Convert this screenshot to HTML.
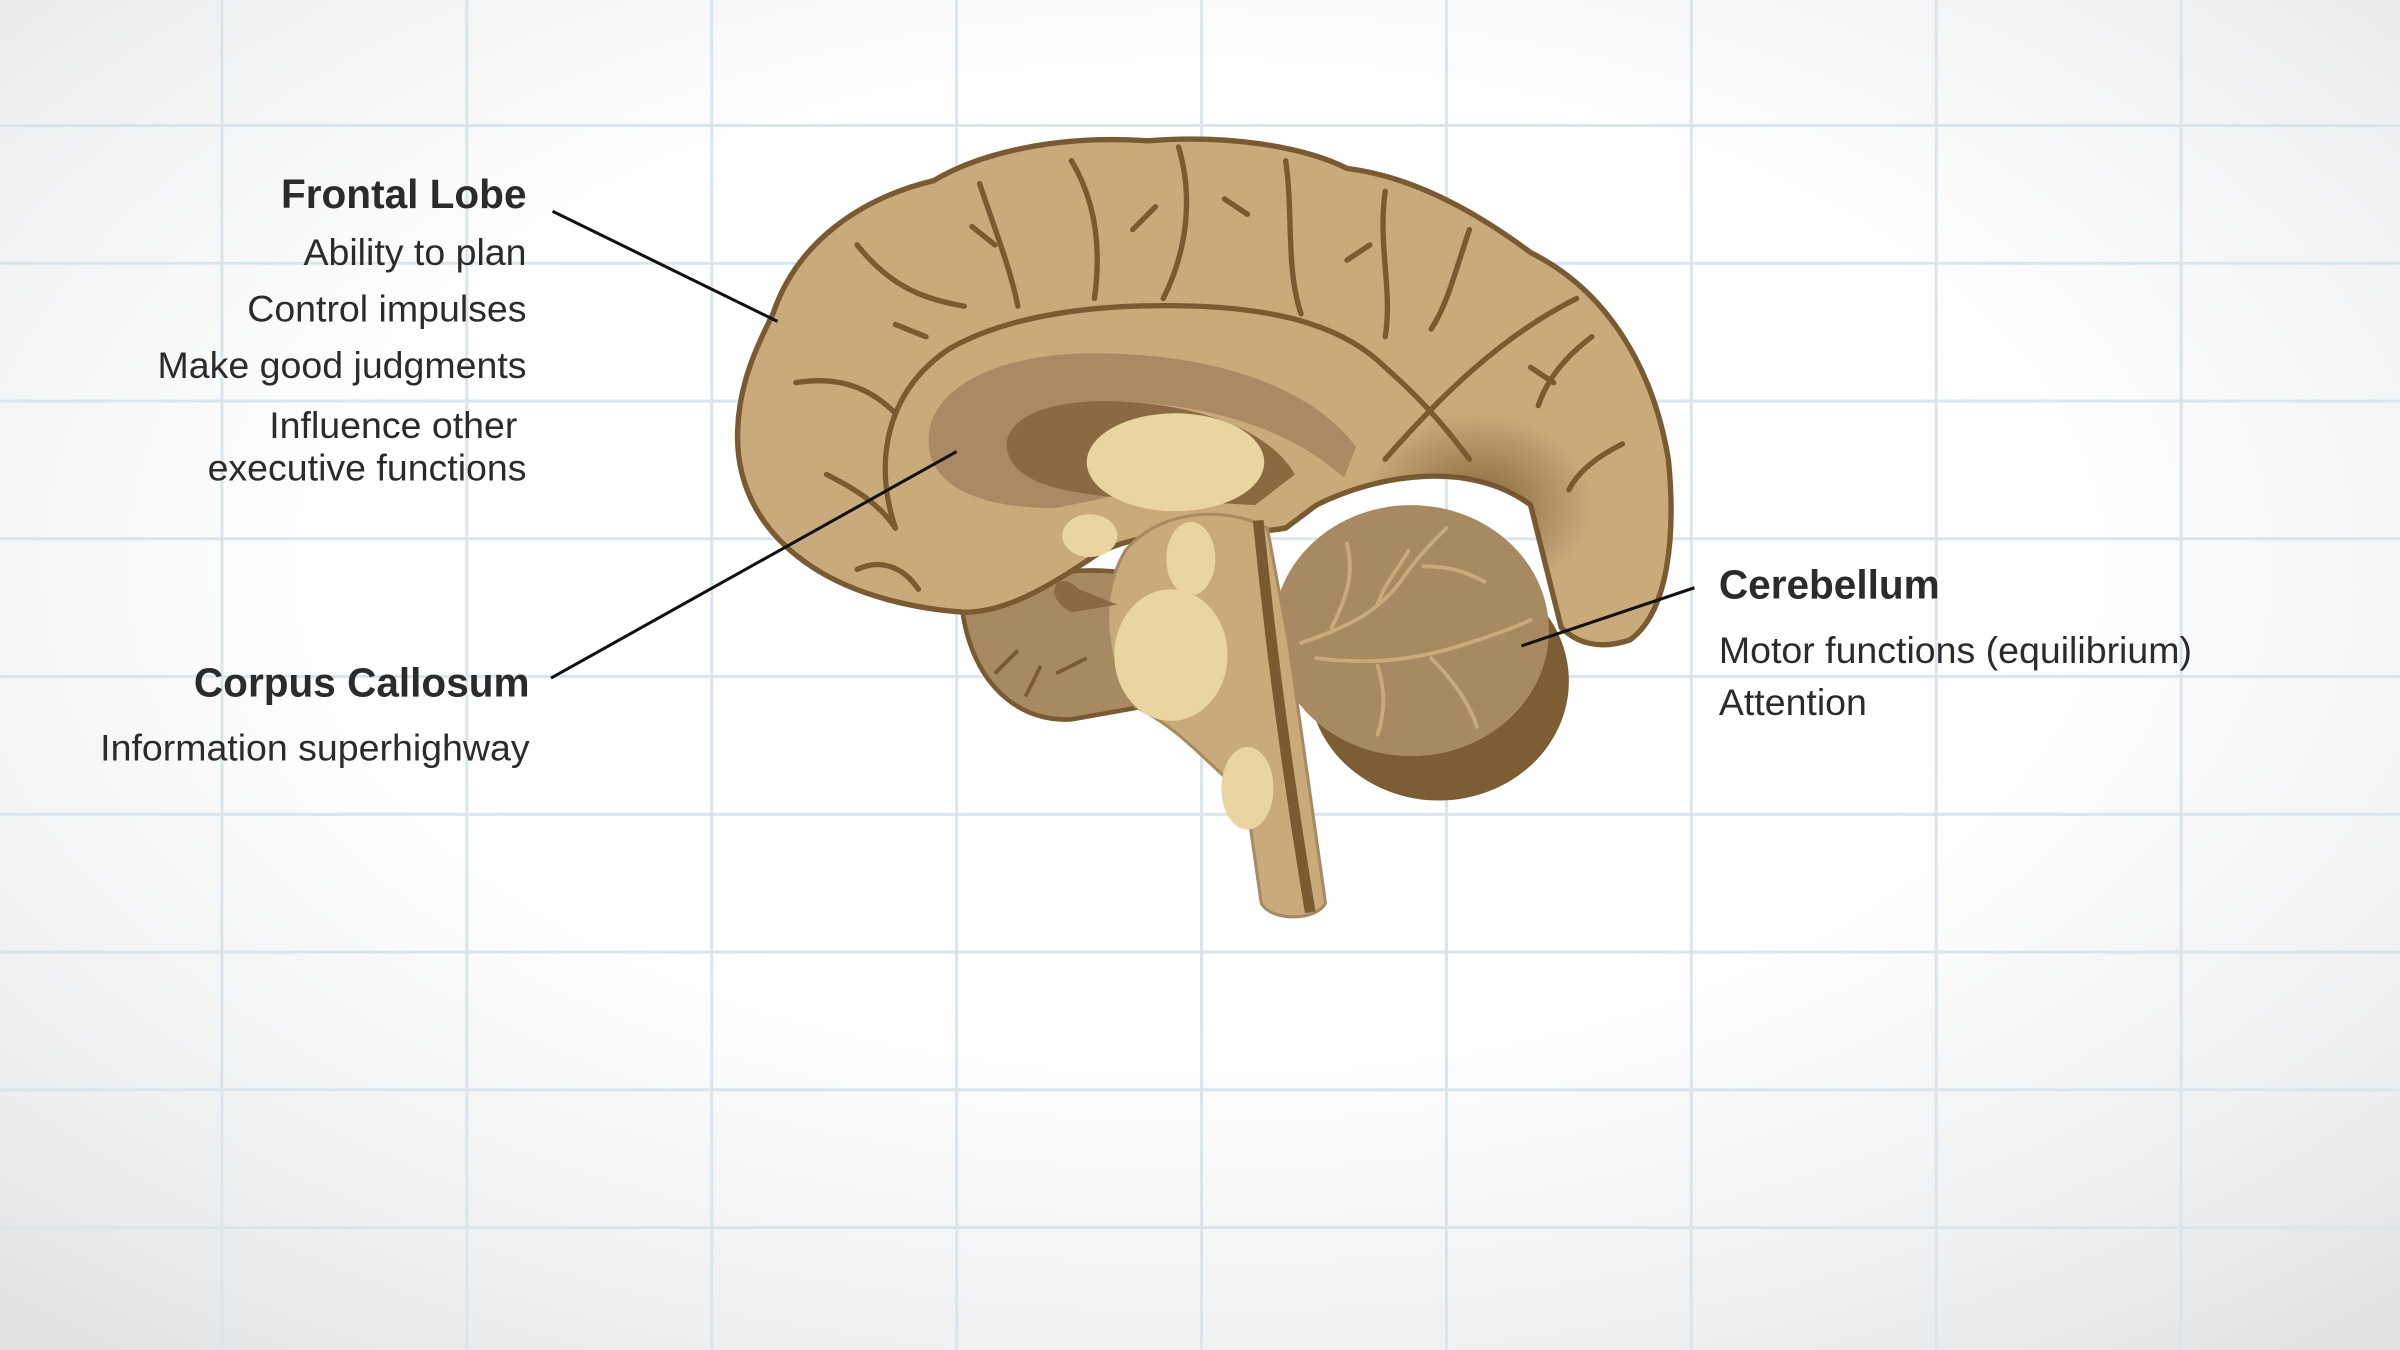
<!DOCTYPE html>
<html><head><meta charset="utf-8"><style>
html,body{margin:0;padding:0;width:2400px;height:1350px;overflow:hidden;background:#fff}
svg{display:block}
text{font-family:"Liberation Sans",sans-serif;fill:#2b2b2b}
.b{font-weight:bold;font-size:26.5px}
.r{font-size:24.5px}
</style></head><body>
<svg width="2400" height="1350" viewBox="0 0 1568 882" xmlns="http://www.w3.org/2000/svg">
<defs>
<radialGradient id="vig" cx="50%" cy="42%" r="75%">
<stop offset="0.45" stop-color="#ffffff"/><stop offset="0.8" stop-color="#eff0f1"/><stop offset="1" stop-color="#dfe1e3"/>
</radialGradient>
<radialGradient id="sh" cx="0.5" cy="0.5" r="0.5">
<stop offset="0" stop-color="#6e4e28" stop-opacity="0.75"/><stop offset="1" stop-color="#6e4e28" stop-opacity="0"/>
</radialGradient>
<clipPath id="cc"><path id="cer" d="M505,205 C520,160 560,130 610,118 C640,100 690,88 750,92 C800,88 850,95 880,110 C920,115 960,135 1000,165 C1050,190 1080,240 1090,300 C1095,350 1090,400 1065,418 C1045,425 1030,420 1020,410 L1000,330 C960,300 900,310 860,330 L840,345 C800,352 760,342 720,360 C690,380 660,400 630,400 C600,398 560,390 530,370 C500,350 480,320 482,280 C483,250 495,225 505,205 Z"/></clipPath>
</defs>
<rect width="1568" height="882" fill="url(#vig)"/>
<g stroke="#dbe6ec" stroke-width="2">
<line x1="145" y1="0" x2="145" y2="882"/><line x1="305" y1="0" x2="305" y2="882"/><line x1="465" y1="0" x2="465" y2="882"/><line x1="625" y1="0" x2="625" y2="882"/><line x1="785" y1="0" x2="785" y2="882"/><line x1="945" y1="0" x2="945" y2="882"/><line x1="1105" y1="0" x2="1105" y2="882"/><line x1="1265" y1="0" x2="1265" y2="882"/><line x1="1425" y1="0" x2="1425" y2="882"/>
<line x1="0" y1="82" x2="1568" y2="82"/><line x1="0" y1="172" x2="1568" y2="172"/><line x1="0" y1="262" x2="1568" y2="262"/><line x1="0" y1="352" x2="1568" y2="352"/><line x1="0" y1="442" x2="1568" y2="442"/><line x1="0" y1="532" x2="1568" y2="532"/><line x1="0" y1="622" x2="1568" y2="622"/><line x1="0" y1="712" x2="1568" y2="712"/><line x1="0" y1="802" x2="1568" y2="802"/>
</g>

<path d="M628,392 C632,440 660,472 700,470 L745,462 L740,375 C700,368 660,378 628,392 Z" fill="#a88a62" stroke="#7a5a30" stroke-width="3"/>
<path d="M650,440 l15,-15 M670,455 l10,-20 M690,440 l20,-10" stroke="#7a5a30" stroke-width="2.5" fill="none"/>
<ellipse cx="940" cy="445" rx="85" ry="78" fill="#7d5d34"/>
<ellipse cx="922" cy="412" rx="90" ry="82" fill="#a88a62"/>
<use href="#cer" fill="#c9aa7b" stroke="#7a5a30" stroke-width="3.5"/>
<g clip-path="url(#cc)">
<ellipse cx="965" cy="330" rx="75" ry="60" fill="url(#sh)"/>
</g>
<g stroke="#7a5a30" stroke-width="3.5" fill="none" stroke-linecap="round">
<path d="M585,345 C570,300 580,255 620,228 C660,205 720,198 780,200 C840,202 880,215 905,240 C930,262 945,280 960,300"/>
<path d="M905,300 C940,260 980,220 1030,195"/>
<path d="M560,160 C580,185 600,195 630,200"/><path d="M520,250 C550,245 570,255 585,270"/>
<path d="M640,120 C650,150 660,175 665,200"/><path d="M700,105 C715,130 720,160 715,195"/>
<path d="M770,96 C780,130 775,165 760,195"/><path d="M840,105 C845,140 840,175 850,205"/>
<path d="M905,125 C900,160 910,190 905,220"/><path d="M960,150 C950,180 945,200 935,215"/>
<path d="M1040,220 C1020,235 1010,250 1005,265"/><path d="M1060,290 C1040,300 1030,310 1025,320"/>
<path d="M540,310 C560,320 575,330 585,345"/><path d="M560,372 C575,365 590,370 600,385"/>
<path d="M605,220 l-20,-8 M650,160 l-15,-12 M740,150 l15,-15 M815,140 l-15,-10 M880,170 l15,-10 M1000,240 l15,10"/>
</g>
<path d="M608,298 C598,258 645,233 705,231 C785,229 855,250 886,292 L878,312 C840,278 785,263 722,262 C672,262 650,280 660,300 C670,318 705,322 728,324 L690,332 C640,332 614,318 608,298 Z" fill="#a98a62"/>
<path d="M660,300 C650,280 672,262 722,262 C785,263 830,282 846,310 L820,330 L730,325 C700,322 670,318 660,300 Z" fill="#8a6a40"/>
<ellipse cx="768" cy="302" rx="58" ry="32" fill="#ead5a0"/>
<ellipse cx="712" cy="350" rx="18" ry="14" fill="#ead5a0"/>
<path d="M735,360 C760,330 805,332 828,345 L842,420 L866,590 C860,602 830,602 824,590 L814,520 C790,500 770,475 742,462 C720,430 718,390 735,360 Z" fill="#c9aa7b" stroke="#a88a62" stroke-width="2"/>
<ellipse cx="765" cy="428" rx="37" ry="43" fill="#ead5a0"/>
<ellipse cx="778" cy="365" rx="16" ry="24" fill="#ead5a0"/>
<ellipse cx="815" cy="515" rx="17" ry="27" fill="#ead5a0"/>
<path d="M822,340 C830,420 840,500 856,596" stroke="#7a5a30" stroke-width="7" fill="none"/>
<path d="M705,385 C690,370 680,390 700,400 L730,395" fill="#8a6a40"/>
<g stroke="#c9aa7b" stroke-width="2.5" fill="none" stroke-linecap="round">
<path d="M850,420 C880,410 900,400 915,380 C925,365 935,355 945,345"/>
<path d="M870,410 C880,390 885,375 880,355 M900,395 C905,380 915,370 920,360 M930,370 C950,370 960,375 970,380"/>
<path d="M860,430 C900,435 930,430 960,420 C975,415 990,410 1000,405 M935,430 C950,445 960,460 965,475 M900,435 C905,450 905,465 900,480"/>
</g>
<g stroke="#111" stroke-width="2">
<line x1="361" y1="138" x2="508" y2="210"/><line x1="360" y1="443" x2="625" y2="295"/><line x1="1107" y1="384" x2="994" y2="422"/>
</g>
<text class="b" x="344" y="136" text-anchor="end">Frontal Lobe</text>
<text class="r" x="344" y="173" text-anchor="end">Ability to plan</text>
<text class="r" x="344" y="210" text-anchor="end">Control impulses</text>
<text class="r" x="344" y="247" text-anchor="end">Make good judgments</text>
<text class="r" x="338" y="286" text-anchor="end">Influence other</text>
<text class="r" x="344" y="314" text-anchor="end">executive functions</text>
<text class="b" x="346" y="455" text-anchor="end">Corpus Callosum</text>
<text class="r" x="346" y="497" text-anchor="end">Information superhighway</text>
<text class="b" x="1123" y="391">Cerebellum</text>
<text class="r" x="1123" y="433">Motor functions (equilibrium)</text>
<text class="r" x="1123" y="467">Attention</text>
</svg>
</body></html>
